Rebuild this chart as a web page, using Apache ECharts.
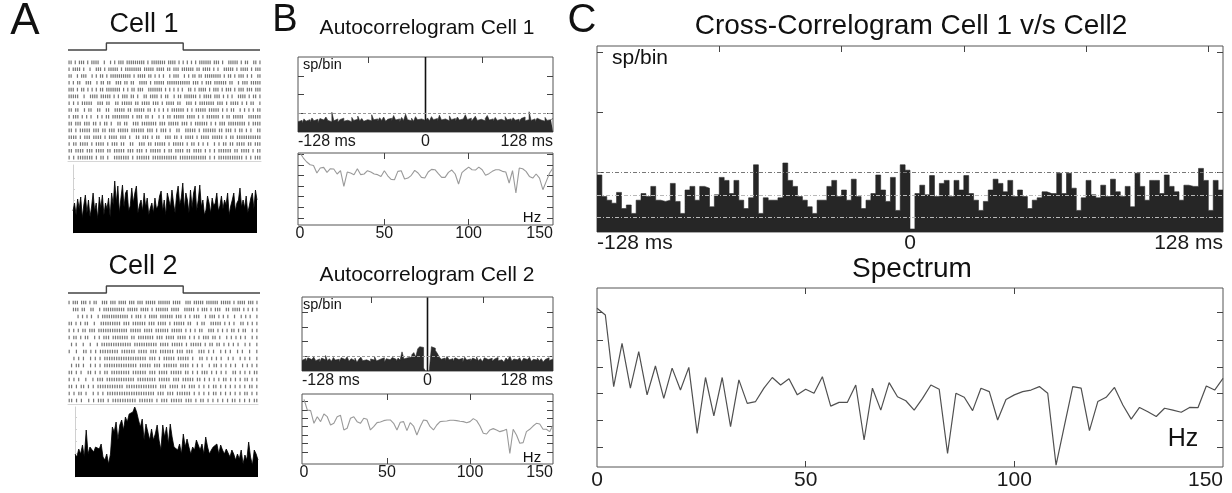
<!DOCTYPE html>
<html><head><meta charset="utf-8">
<script src="https://cdn.jsdelivr.net/npm/echarts@6/dist/echarts.min.js"></script>
<style>html,body{margin:0;padding:0;background:#fff}#c{width:1232px;height:493px}</style>
</head><body><div id="c"></div>
<script>
// ---------------- DATA ----------------
const stimX = [0, 20, 20, 60, 60, 100];
const stimY = [0, 0, 1, 1, 0, 0];

const rasterCell1 = [
"|| | ||| | ||||  |  | | ||| ||||||||| | ||||||| |||| | | | | | |||||| ||| |  ||||| | ||  || |",
"| |||| |  |  ||| | ||||| | |||||||| ||||| |||| || ||| |||||| || |||| | |  ||||| | |||| | |||",
"||  | |||  | | || | |||||||||| | |||| || | | |  | |||  | | || || |||||||| | || | ||| | |  ||",
"| | ||  |||  | || ||  ||| || ||  |||| | ||||| ||||||||||| ||| | ||| |||||| ||  | ||| |||||",
"||| | || | | | || ||||||| | | || |||  ||||||| | | | | |  || | |||| | ||| | ||| | ||| ||| |||",
"|||||  |  |||| ||||| | | ||| || |  || |||| | ||  | || |||||| | |||| ||| | | |  |||| | || |",
"| | | |||||  ||| ||  || ||||| || |||| ||| | |||| ||  ||| | ||||||| ||| | |||| | | ||  |",
"|| ||  | ||  ||  ||  ||||| || ||||| || | | | | |||||| | | ||||| ||||| | | ||  | | | | ||",
"| ||| | | |  | | || |||||||| | ||| || |  | | || ||||| |||| | | |||||| | || |||||  ||||||",
"|| ||| ||| || | || |  || ||  ||| ||||||| ||| ||||| ||| | |||||| | | ||| |||||||| | ||||",
"|| | ||||| ||| || ||| ||||| |||||| ||| | ||| |  ||  ||||| | |||||| || ||| | || | |  ||",
"|||| | ||| |||| | |||| ||| |  || ||| | ||  ||| || | |||| | |||| ||||| | || |||||||||||",
"| || |||| | |||| | ||| ||  ||  ||| || ||||| | ||||| | || | | |  | | || || |||| || |||",
"|| |||| ||| |||| || ||||| ||| ||| | ||||| | || |||| || |||| | | | |||||| || |||| | ||",
"| | ||||||| | || |  ||||||| | |||||| ||||||||||| |||||||||||| | | ||||||||||| | | |||"
];
const rasterCell2 = [
"| ||| ||| | ||  ||| ||| |||| ||| ||| ||||| |||||| ||||  ||| ||||| |||||| ||||| | |||| ||| |",
"  ||| ||  ||  | |||||||||| ||||| |||| | |||||| ||||  ||||| | ||| | |||  || |||| | | | |",
"    | | | |  | |||||||||||| | ||| | |||| |||||| ||| | | |||  | ||| | | |  |  | | |  |",
"|| | | ||  |  ||||||||| ||| |||||| ||| |||| | ||||| ||  | ||  ||||| | | |  || | | |",
"| | | || ||| ||||||||||||| ||||| |||| |||||| ||||| | | | ||  ||| | | | || | ||  | |",
"| || | ||  | | ||| ||||||| || ||||||| ||| |||| |||| | | | ||| || |  | | | | |  | |",
" | |  |  |  | ||||||||||||| |||||||||| |||| ||||| | ||||| | || || | | | |  | |  |",
"|  |  || | | |||||||| |||||| |||| ||| |||||| ||| |||  ||| | |  | | |  | |  |  |",
"  | | |  | | | |||||||||||||||||| ||| | ||||| ||||| |  || | | | |  | |  | | |  |",
" | || |  | | | |||||||||||||| ||||| ||| |||||| |||| | | |  | || | | | |  | | | |",
"|| | |  || | | || |||||||| |||||| ||| |||| ||||| || | | ||| | | | |  || | | | ||",
"| | |  |  | ||| |||||||||||| |||||||| ||||| ||| ||||| || | | | | || | | | || | |",
"|| | || | | ||||||||||| ||||||||||||| ||| |||| || ||| | | | || | | | | | | || |",
"| | || |  | | | |||||||||||||||||||| ||| ||| |||||| | | | | || | | | | | || | |",
"|| | |  | | ||| | |||||||||| |||||| | ||| ||||| ||| | || | | | | | || | | | ||"
];

const histCell1 = [22,30,18,34,24,36,15,28,38,20,33,16,26,40,22,30,14,36,25,38,18,30,24,35,16,40,28,52,30,47,20,35,48,26,40,43,22,27,45,30,40,47,20,28,33,22,40,26,35,18,25,30,20,35,24,27,37,42,22,33,18,40,33,26,43,30,20,38,47,28,35,50,24,40,33,20,43,25,40,47,22,33,48,26,33,18,23,37,30,20,35,27,30,40,22,27,37,24,33,28,40,18,27,33,40,22,30,33,45,26,33,25,37,20,27,35,40,24,43,33];
const histCell2 = [23,20,28,23,32,20,47,23,30,32,25,30,32,28,33,20,17,23,13,23,50,45,55,37,52,57,47,60,55,63,62,65,70,65,57,50,58,37,53,55,37,48,37,43,52,37,27,52,40,50,33,53,40,30,32,27,33,23,43,30,38,30,23,30,27,37,32,27,33,23,40,30,23,27,30,28,33,23,32,27,23,28,27,20,27,23,17,23,18,27,13,22,17,35,20,12,27,23,17];

const lagRange = [-128, 128];
const lagBinMs = 2;
const lagTickLabels = [-128, 0, 128];

const autoCell1 = [
0.55,0.62,0.48,0.70,0.58,0.66,0.52,0.75,0.60,0.68,0.50,0.72,0.64,0.57,0.80,0.62,0.55,1.05,0.60,0.70,0.52,0.66,0.74,0.58,0.63,0.70,0.55,0.78,0.62,0.68,0.85,0.60,
0.72,0.57,0.66,0.74,0.60,0.92,0.65,0.70,0.58,0.76,0.62,0.80,0.57,0.68,0.73,0.60,0.88,0.64,0.70,0.55,0.78,0.62,0.95,0.66,0.60,0.74,0.58,0.82,0.65,0.70,0.75,0.62,
0.68,0.75,0.60,0.82,0.66,0.72,0.58,0.90,0.64,0.70,0.76,0.60,0.86,0.66,0.72,0.58,0.80,0.64,0.70,0.62,0.92,0.66,0.74,0.58,0.70,0.84,0.62,0.68,0.76,0.60,0.72,0.88,
0.64,0.70,0.57,0.78,0.62,0.68,0.74,0.60,0.82,0.65,0.70,0.58,0.76,0.63,0.68,0.55,0.72,0.80,0.60,0.66,1.08,0.62,0.70,0.56,0.74,0.64,0.68,0.58,0.78,0.62,0.66,0.72];
const autoCell2 = [
0.72,0.85,0.64,0.90,0.78,0.68,0.95,0.70,0.82,0.60,0.88,0.76,1.05,0.70,0.84,0.66,0.92,0.74,0.80,0.62,0.90,0.78,0.70,0.96,0.66,0.84,0.72,0.88,0.60,0.80,
0.94,0.70,0.76,0.86,0.64,0.82,0.74,0.98,0.68,0.80,0.72,0.90,0.62,0.84,0.76,0.70,0.92,0.80,0.66,0.88,0.74,1.30,0.82,0.90,0.78,0.95,
1.10,1.25,0.95,1.50,1.65,1.60,0.20,0.00,
0.00,0.15,1.65,1.55,1.40,1.20,
0.95,0.80,0.88,0.72,1.00,0.76,0.84,0.66,0.90,0.78,0.70,0.86,0.62,0.94,0.74,0.82,0.68,0.88,0.76,0.96,
0.70,0.84,0.64,0.90,0.78,0.72,0.86,0.66,0.80,0.92,0.70,0.76,0.84,0.62,0.88,0.74,1.02,0.68,0.82,0.76,
0.70,0.90,0.64,0.86,0.78,0.72,0.94,0.66,0.80,0.74,0.88,0.70,0.84,0.62,0.78,0.90,0.72,0.80];
const autoZeroLag1 = 4.0;
const autoZeroLag2 = 5.0;
const autoRefLine = [1.0];

const crossValues = [
0.95,0.59,0.53,0.48,0.66,0.39,0.45,0.31,0.53,0.64,0.59,0.76,0.53,0.51,0.53,0.81,0.51,0.31,0.70,0.76,0.53,0.76,0.73,0.42,0.62,0.91,0.86,0.64,0.86,0.53,0.39,0.57,
1.12,0.31,0.57,0.53,0.53,0.57,1.15,0.86,0.76,0.59,0.53,0.42,0.31,0.53,0.53,0.76,0.86,0.59,0.70,0.53,0.88,0.59,0.39,0.53,0.64,0.95,0.70,0.51,0.91,0.36,1.12,1.03,
0.05,0.64,0.78,0.62,0.94,0.59,0.81,0.86,0.59,0.86,0.70,0.94,0.64,0.53,0.36,0.51,0.70,0.88,0.81,0.67,0.86,0.59,0.70,0.59,0.39,0.53,0.57,0.67,0.64,0.64,0.98,0.64,
0.98,0.73,0.36,0.57,0.86,0.62,0.57,0.78,0.59,0.88,0.67,0.59,0.76,0.42,0.98,0.76,0.53,0.86,0.86,0.64,0.95,0.76,0.67,0.53,0.78,0.76,0.76,1.06,0.86,0.36,0.86,0.70];
const crossRefLines = [1.0, 0.62, 0.25];
const crossTopTicks = [-78, -28, 22, 72, 122];

const specHz = [0,2,4,6,8,10,12,14,16,18,20,22,24,26,28,30,32,34,36,38,40,42,44,46,48,50,52,54,56,58,60,62,64,66,68,70,72,74,76,78,80,82,84,86,88,90,92,94,96,98,100,102,104,106,108,110,112,114,116,118,120,122,124,126,128,130,132,134,136,138,140,142,144,146,148,150];
const hzTickLabels = [0, 50, 100, 150];
const specCell1 = [6.55,6.09,5.73,5.48,5.42,4.73,5.18,5.24,4.79,5.12,5.09,4.64,4.94,3.52,4.82,4.73,4.58,5.12,4.58,4.64,4.94,4.82,4.64,4.58,4.42,4.94,4.48,4.15,4.12,4.88,4.94,4.18,4.27,4.52,4.97,4.73,4.33,4.27,4.82,5.06,5.03,4.67,4.33,4.33,4.79,5.00,4.64,3.73,4.76,5.03,5.27,5.03,5.00,5.27,5.03,4.52,4.67,4.88,5.03,5.03,4.88,4.82,3.82,4.94,2.91,5.18,5.12,4.88,4.42,4.27,4.64,4.27,3.21,3.97,4.73,5.18];
const specCell2 = [7.70,6.43,6.35,4.84,5.63,5.04,5.95,5.63,4.64,4.84,5.63,5.79,4.05,4.25,5.44,5.63,5.04,4.84,5.44,5.32,4.05,4.44,4.92,5.00,5.16,5.24,5.24,4.84,4.05,4.96,5.04,3.97,4.92,4.52,3.45,4.44,5.24,5.16,4.44,4.05,4.64,5.04,5.08,5.12,5.20,5.20,5.16,5.08,5.04,4.92,5.04,5.40,5.16,4.52,3.65,3.57,4.05,4.21,4.05,3.85,3.97,4.13,1.27,4.13,3.45,2.46,2.54,3.85,4.13,4.52,4.84,4.76,4.13,4.13,3.85,4.64];
const specCross = [5.94,5.69,3.01,4.63,2.95,4.32,2.70,3.78,2.57,3.70,2.88,3.73,1.26,3.35,1.91,3.35,1.51,3.26,2.38,2.45,2.95,3.35,3.07,3.30,2.70,2.91,2.76,3.38,2.28,2.42,2.42,3.07,1.01,2.95,2.13,3.16,2.63,2.48,2.13,2.57,3.07,2.91,0.51,2.76,2.61,2.11,2.95,2.82,1.76,2.53,2.70,2.82,2.88,3.01,2.76,0.07,1.55,3.01,2.95,1.36,2.45,2.61,2.98,2.32,1.79,2.23,2.07,1.89,2.20,2.13,2.05,2.23,2.22,3.03,2.88,3.32];

// ---------------- BUILD ----------------
const FONT = '"Liberation Sans", Arial, Helvetica, sans-serif';
const grids = [], xAxes = [], yAxes = [], series = [];
const EDGE = '#444';

function tickCfg(vals, len) {
  if (!vals) return {show: false};
  return {show: true, inside: true, length: len || 6, customValues: vals, lineStyle: {color: EDGE, width: 1}};
}
function box(rect, xa, ya, framed) {
  const gi = grids.length;
  grids.push({left: rect[0], top: rect[1], width: rect[2], height: rect[3], show: framed !== false,
    borderColor: '#555', borderWidth: 1, backgroundColor: 'transparent'});
  const xi = xAxes.length;
  const lab = xa.labels ? {show: true, customValues: xa.labels, formatter: xa.fmt || (v => String(v)),
      fontSize: xa.fontSize, color: '#1a1a1a', fontFamily: FONT, margin: xa.margin,
      alignMinLabel: xa.alignMin, alignMaxLabel: xa.alignMax, showMinLabel: true, showMaxLabel: true}
    : {show: false};
  const xBottom = {type: xa.type || 'value', gridIndex: gi, position: 'bottom',
    axisLine: xa.line ? {show: true, onZero: false, lineStyle: {color: xa.line}} : {show: false, onZero: false},
    splitLine: {show: false}, axisTick: tickCfg(xa.ticks), axisLabel: lab};
  if (xa.type === 'category') { xBottom.data = xa.data; xBottom.boundaryGap = false; }
  else { xBottom.min = xa.min; xBottom.max = xa.max; }
  xAxes.push(xBottom);
  xAxes.push({type: 'value', gridIndex: gi, min: xa.type === 'category' ? 0 : xa.min, max: xa.type === 'category' ? 1 : xa.max,
    position: 'top', axisLine: {show: false, onZero: false}, splitLine: {show: false},
    axisLabel: {show: true, formatter: () => ''}, axisTick: tickCfg(xa.topTicks)});
  const yi = yAxes.length;
  yAxes.push({type: 'value', gridIndex: gi, min: ya.min, max: ya.max, inverse: !!ya.inverse, position: 'left',
    axisLine: ya.line ? {show: true, onZero: false, lineStyle: {color: ya.line}} : {show: false, onZero: false},
    splitLine: {show: false}, axisLabel: {show: false},
    axisTick: ya.ticks ? {show: true, inside: true, length: ya.tickLen || 6, customValues: ya.ticks, lineStyle: {color: ya.tickColor || EDGE}} : {show: false}});
  yAxes.push({type: 'value', gridIndex: gi, min: ya.min, max: ya.max, inverse: !!ya.inverse, position: 'right',
    axisLine: {show: false, onZero: false}, splitLine: {show: false}, axisLabel: {show: false},
    axisTick: ya.rightTicks ? tickCfg(ya.rightTicks) : {show: false}});
  return {xi, yi};
}

function stepData(vals, start, width) {
  const d = vals.map((v, i) => [start + i * width, v]);
  d.push([start + vals.length * width, vals[vals.length - 1]]);
  return d;
}
function rasterData(rows) {
  const d = [];
  rows.forEach((s, r) => { for (let i = 0; i < s.length; i++) if (s[i] === '|') d.push([(i + 0.5) / s.length * 100, r]); });
  return d;
}
const lagFmt = v => v === 0 ? '0' : v + ' ms';

// ---- Panel A ----
function panelA(stimTop, rasterRect, histRect, rows, hist, histMax, histTicks) {
  const s = box([68, stimTop, 192, 7], {min: 0, max: 100}, {min: 0, max: 1}, false);
  series.push({type: 'line', xAxisIndex: s.xi, yAxisIndex: s.yi, data: stimX.map((x, i) => [x, stimY[i]]),
    symbol: 'none', clip: false, lineStyle: {color: '#444', width: 1.4}});
  const r = box(rasterRect, {min: 0, max: 100, line: '#d6d6d6'}, {min: -0.5, max: rows.length - 0.5, inverse: true}, false);
  series.push({type: 'scatter', xAxisIndex: r.xi, yAxisIndex: r.yi, data: rasterData(rows), symbol: 'rect',
    symbolSize: [1.2, 3.6], itemStyle: {color: '#222', opacity: 0.62}, silent: true});
  const h = box(histRect, {type: 'category', data: hist.map((_, i) => i)},
    {min: 0, max: histMax, line: '#d0d0d0', ticks: histTicks, tickLen: 2, tickColor: '#d0d0d0'}, false);
  series.push({type: 'line', xAxisIndex: h.xi, yAxisIndex: h.yi, data: hist, symbol: 'none',
    lineStyle: {color: '#000', width: 0.8}, areaStyle: {color: '#000', opacity: 1}});
}
panelA(43, [68, 59, 193, 102], [73, 165, 184, 68], rasterCell1, histCell1, 68, [11, 22, 33, 44, 55]);
panelA(286, [68, 299, 190, 105], [75, 407, 183, 70], rasterCell2, histCell2, 70, [12, 24, 36, 48, 60]);

// ---- Panel B ----
function panelB(ccRect, specRect, auto, zeroLag, yMax, yTicks, spec, specMin, specMax, specTicks, specTopTicks) {
  const c = box(ccRect, {min: lagRange[0], max: lagRange[1], labels: lagTickLabels, fmt: lagFmt, fontSize: 16, margin: 2,
      alignMin: 'left', alignMax: 'right', topTicks: [-57, 57]},
    {min: 0, max: yMax, ticks: yTicks, rightTicks: yTicks});
  series.push({type: 'line', xAxisIndex: c.xi, yAxisIndex: c.yi, step: 'end', symbol: 'none',
    data: stepData(auto, lagRange[0], lagBinMs), lineStyle: {color: '#2a2a2a', width: 0.6},
    areaStyle: {color: '#2a2a2a', opacity: 1},
    markLine: {silent: true, symbol: ['none', 'none'], label: {show: false},
      lineStyle: {color: '#999', type: [3, 2], width: 1}, data: autoRefLine.map(v => ({yAxis: v}))}});
  series.push({type: 'bar', xAxisIndex: c.xi, yAxisIndex: c.yi, data: [[0, zeroLag]], barWidth: 1.6,
    itemStyle: {color: '#111'}});
  const s = box(specRect, {min: specMin, max: specMax, labels: hzTickLabels, fontSize: 16, margin: 1, alignMax: 'right',
      ticks: specTopTicks, topTicks: specTopTicks},
    {min: 0, max: specTicks.max, ticks: specTicks.v, rightTicks: specTicks.v});
  series.push({type: 'line', xAxisIndex: s.xi, yAxisIndex: s.yi, symbol: 'none',
    data: specHz.map((f, i) => [f, spec[i]]), lineStyle: {color: '#9a9a9a', width: 1.1}});
}
panelB([298, 57, 255, 75], [298, 153, 255, 72], autoCell1, autoZeroLag1, 4, [1, 2, 3],
  specCell1, -1.2, 150, {max: 6.55, v: [0.6, 1.6, 2.6, 3.55, 4.5, 5.45, 6.4]}, [50, 100]);
panelB([302, 297, 251, 74], [302, 394, 251, 70], autoCell2, autoZeroLag2, 5.03, [1, 2, 3, 4],
  specCell2, -1.2, 150, {max: 8.33, v: [1.45, 2.45, 3.45, 4.45, 5.45, 6.45, 7.45]}, [50, 100]);

// ---- Panel C ----
const cc = box([597, 46, 626, 186], {min: lagRange[0], max: lagRange[1], labels: lagTickLabels, fmt: lagFmt, fontSize: 21,
    margin: 1, alignMin: 'left', alignMax: 'right', topTicks: crossTopTicks},
  {min: 0, max: 3.1, ticks: [1, 2, 3], rightTicks: [1, 2, 3]});
series.push({type: 'line', xAxisIndex: cc.xi, yAxisIndex: cc.yi, step: 'end', symbol: 'none',
  data: stepData(crossValues, lagRange[0], lagBinMs), lineStyle: {color: '#262626', width: 0.6},
  areaStyle: {color: '#262626', opacity: 1},
  markLine: {silent: true, symbol: ['none', 'none'], label: {show: false},
    data: crossRefLines.map((v, i) => ({yAxis: v, lineStyle: {color: i === 0 ? '#777' : '#b8b8b8', type: [4, 2, 1, 2], width: 1}}))}});
const cs = box([597, 288, 626, 179], {min: 0, max: 150, labels: hzTickLabels, fontSize: 21, margin: 3,
    alignMax: 'right', ticks: [50, 100], topTicks: [50, 100]},
  {min: 0, max: 6.7, ticks: [0.75, 1.75, 2.75, 3.75, 4.75, 5.8], rightTicks: [0.75, 1.75, 2.75, 3.75, 4.75, 5.8]});
series.push({type: 'line', xAxisIndex: cs.xi, yAxisIndex: cs.yi, symbol: 'none',
  data: specHz.map((f, i) => [f, specCross[i]]), lineStyle: {color: '#505050', width: 1.2}});

// ---- Text ----
function txt(text, x, y, size, align) {
  return {type: 'text', x: x, y: y, z: 100, silent: true,
    style: {text: text, fontSize: size, fontFamily: FONT, fill: '#111', textAlign: align || 'center',
      verticalAlign: 'middle', textVerticalAlign: 'middle'}};
}
const graphics = [
  txt('A', 25, 22, 44), txt('Cell 1', 144, 25, 27), txt('Cell 2', 143, 267, 27),
  txt('B', 285, 21, 38), txt('Autocorrelogram Cell 1', 427, 28, 21), txt('Autocorrelogram Cell 2', 427, 275, 21),
  txt('sp/bin', 303, 65, 14.5, 'left'), txt('sp/bin', 303, 305, 14.5, 'left'),
  txt('Hz', 532, 218, 15), txt('Hz', 532, 458, 15),
  txt('C', 582, 21, 40), txt('Cross-Correlogram Cell 1 v/s Cell2', 911, 26, 28),
  txt('sp/bin', 612, 58, 21, 'left'), txt('Spectrum', 912, 269, 28), txt('Hz', 1183, 439, 25)
];

const chart = echarts.init(document.getElementById('c'), null, {renderer: 'canvas'});
chart.setOption({animation: false, backgroundColor: '#fff', grid: grids, xAxis: xAxes, yAxis: yAxes, series: series, graphic: graphics});
</script></body></html>
